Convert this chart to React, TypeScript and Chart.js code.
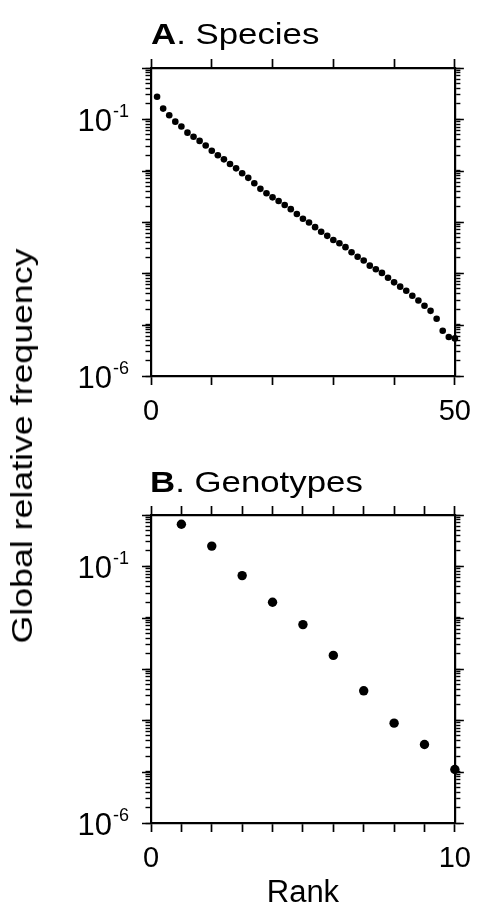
import { useEffect, useRef } from "react";
import { Chart, registerables } from "chart.js";

Chart.register(...registerables);

// ---------- data ----------
const speciesRanks = [
  1, 2, 3, 4, 5, 6, 7, 8, 9, 10, 11, 12, 13, 14, 15, 16, 17, 18, 19, 20, 21, 22, 23, 24, 25,
  26, 27, 28, 29, 30, 31, 32, 33, 34, 35, 36, 37, 38, 39, 40, 41, 42, 43, 44, 45, 46, 47, 48, 49, 50,
];
const speciesFreq = [
  0.275, 0.162, 0.12, 0.0902, 0.0724, 0.055, 0.0457, 0.038, 0.0309, 0.0245,
  0.02, 0.0166, 0.0135, 0.0111, 0.00891, 0.00724, 0.00569, 0.00442, 0.00363, 0.00302,
  0.00257, 0.00214, 0.00178, 0.00143, 0.00116, 0.000977, 0.000794, 0.000646, 0.000537, 0.000447,
  0.000385, 0.000324, 0.000257, 0.000211, 0.000178, 0.000141, 0.00012, 0.000102, 8.22e-5, 6.68e-5,
  5.5e-5, 4.57e-5, 3.67e-5, 2.95e-5, 2.34e-5, 1.86e-5, 1.3e-5, 7.59e-6, 5.75e-6, 5.4e-6,
];
const genotypeRanks = [1, 2, 3, 4, 5, 6, 7, 8, 9, 10];
const genotypeFreq = [0.66, 0.248, 0.066, 0.02, 0.00733, 0.00184, 0.000376, 8.81e-5, 3.39e-5, 1.1e-5];

const speciesXTicks = [0, 10, 20, 30, 40, 50];
const speciesXLabeled = [0, 50];
const genotypeXTicks = [0, 1, 2, 3, 4, 5, 6, 7, 8, 9, 10];
const genotypeXLabeled = [0, 10];

const yDecades = [-6, -5, -4, -3, -2, -1, 0];
const yMinorSignificands = [2, 3, 4, 5, 6, 7, 8, 9];
const yLabelValues = [1e-1, 1e-6];
const yLabelExponents = ["-1", "-6"];

const FONT = "'Liberation Sans', Arial, Helvetica, sans-serif";
const BLACK = "#000";

function yTickList() {
  const out: { value: number; major: boolean }[] = [];
  yDecades.forEach((d) => {
    const base = Math.pow(10, d);
    out.push({ value: base, major: true });
    if (d < 0) yMinorSignificands.forEach((m) => out.push({ value: m * base, major: false }));
  });
  return out.sort((a, b) => a.value - b.value);
}

const decadeTicksPlugin = {
  id: "decadeTicks",
  afterDraw(chart: any) {
    const ctx = chart.ctx;
    const area = chart.chartArea;
    const y = chart.scales.y;
    ctx.save();
    ctx.strokeStyle = BLACK;
    ctx.lineWidth = 1.7;
    yDecades.forEach((d) => {
      const py = Math.round(y.getPixelForValue(Math.pow(10, d))) + 0.5;
      ctx.beginPath();
      ctx.moveTo(area.left, py);
      ctx.lineTo(area.left - 9, py);
      ctx.moveTo(area.right, py);
      ctx.lineTo(area.right + 9, py);
      ctx.stroke();
    });
    // superscript tick labels
    yLabelValues.forEach((v, i) => {
      const py = y.getPixelForValue(v);
      const right = area.left - 22;
      ctx.fillStyle = BLACK;
      ctx.textBaseline = "alphabetic";
      ctx.textAlign = "left";
      ctx.font = `18px ${FONT}`;
      const wExp = ctx.measureText(yLabelExponents[i]).width;
      ctx.font = `31px ${FONT}`;
      const wBase = ctx.measureText("10").width;
      const x0 = right - wExp - wBase - 1;
      ctx.fillText("10", x0, py + 11.5);
      ctx.font = `18px ${FONT}`;
      ctx.fillText(yLabelExponents[i], x0 + wBase + 1, py - 2);
    });
    ctx.restore();
  },
};

function makeConfig(
  ranks: number[],
  freqs: number[],
  xMax: number,
  xTicks: number[],
  xLabeled: number[],
  radius: number,
  topH: number,
  bottomH: number,
  xTitle: string | null
): any {
  const xGrid = {
    drawOnChartArea: false,
    drawTicks: true,
    tickLength: 9,
    tickColor: BLACK,
    tickWidth: 1.7,
  };
  const yGrid = {
    drawOnChartArea: false,
    drawTicks: true,
    tickLength: 5.5,
    tickColor: BLACK,
    tickWidth: 1.4,
  };
  const border = { display: true, color: BLACK, width: 2.2 };
  const setXTicks = (s: any) => {
    s.ticks = xTicks.map((v) => ({ value: v }));
  };
  const setYTicks = (s: any) => {
    s.ticks = yTickList();
  };
  return {
    type: "scatter",
    data: {
      datasets: [
        {
          data: ranks.map((r, i) => ({ x: r, y: freqs[i] })),
          backgroundColor: BLACK,
          borderColor: BLACK,
          pointRadius: radius,
          pointBorderWidth: 0,
          showLine: false,
          clip: false,
          xAxisID: "x",
          yAxisID: "y",
        },
      ],
    },
    options: {
      responsive: false,
      animation: false,
      events: [],
      layout: { padding: 0 },
      plugins: { legend: { display: false }, tooltip: { enabled: false }, title: { display: false } },
      scales: {
        x: {
          type: "linear",
          position: "bottom",
          min: 0,
          max: xMax,
          afterBuildTicks: setXTicks,
          afterFit: (s: any) => {
            s.height = bottomH;
          },
          ticks: {
            autoSkip: false,
            maxRotation: 0,
            minRotation: 0,
            padding: 10,
            color: BLACK,
            font: { family: FONT, size: 29 },
            callback: (v: any) => (xLabeled.includes(Number(v)) ? String(v) : ""),
          },
          grid: xGrid,
          border,
          title: xTitle
            ? {
                display: true,
                text: xTitle,
                color: BLACK,
                font: { family: FONT, size: 31, lineHeight: 1 },
                padding: { top: 0, bottom: 2 },
              }
            : { display: false },
        },
        xTop: {
          type: "linear",
          position: "top",
          min: 0,
          max: xMax,
          afterBuildTicks: setXTicks,
          afterFit: (s: any) => {
            s.height = topH;
          },
          ticks: { display: false },
          grid: xGrid,
          border,
        },
        y: {
          type: "logarithmic",
          position: "left",
          min: 1e-6,
          max: 1,
          afterBuildTicks: setYTicks,
          afterFit: (s: any) => {
            s.width = 151;
          },
          ticks: { display: false, autoSkip: false },
          grid: yGrid,
          border,
        },
        yRight: {
          type: "logarithmic",
          position: "right",
          min: 1e-6,
          max: 1,
          afterBuildTicks: setYTicks,
          afterFit: (s: any) => {
            s.width = 21;
          },
          ticks: { display: false, autoSkip: false },
          grid: yGrid,
          border,
        },
      },
    },
    plugins: [decadeTicksPlugin],
  };
}

export default function App() {
  const refA = useRef<HTMLCanvasElement | null>(null);
  const refB = useRef<HTMLCanvasElement | null>(null);

  useEffect(() => {
    const a = new Chart(
      refA.current as HTMLCanvasElement,
      makeConfig(speciesRanks, speciesFreq, 50, speciesXTicks, speciesXLabeled, 3.3, 68, 64, null)
    );
    const b = new Chart(
      refB.current as HTMLCanvasElement,
      makeConfig(genotypeRanks, genotypeFreq, 10, genotypeXTicks, genotypeXLabeled, 4.7, 75, 88, "Rank")
    );
    return () => {
      a.destroy();
      b.destroy();
    };
  }, []);

  const titleStyle: any = {
    position: "absolute",
    fontFamily: FONT,
    fontSize: 29,
    lineHeight: "29px",
    color: BLACK,
    whiteSpace: "nowrap",
    transform: "scaleX(1.2)",
    transformOrigin: "0 50%",
  };

  return (
    <div
      style={{
        position: "fixed",
        left: 0,
        top: 0,
        width: 481,
        height: 911,
        background: "#fff",
        overflow: "hidden",
      }}
    >
      <canvas
        ref={refA}
        width={481}
        height={440}
        style={{ position: "absolute", left: 0, top: 0, width: 481, height: 440 }}
      />
      <canvas
        ref={refB}
        width={481}
        height={471}
        style={{ position: "absolute", left: 0, top: 440, width: 481, height: 471 }}
      />
      <div style={{ ...titleStyle, left: 151, top: 19.5 }}>
        <b>A</b>. Species
      </div>
      <div style={{ ...titleStyle, left: 150, top: 468 }}>
        <b>B</b>. Genotypes
      </div>
      <div
        style={{
          position: "absolute",
          left: 21.6,
          top: 446,
          fontFamily: FONT,
          fontSize: 30,
          lineHeight: "30px",
          color: BLACK,
          whiteSpace: "nowrap",
          transform: "translate(-50%, -50%) rotate(-90deg) scaleX(1.19)",
        }}
      >
        Global relative frequency
      </div>
    </div>
  );
}
